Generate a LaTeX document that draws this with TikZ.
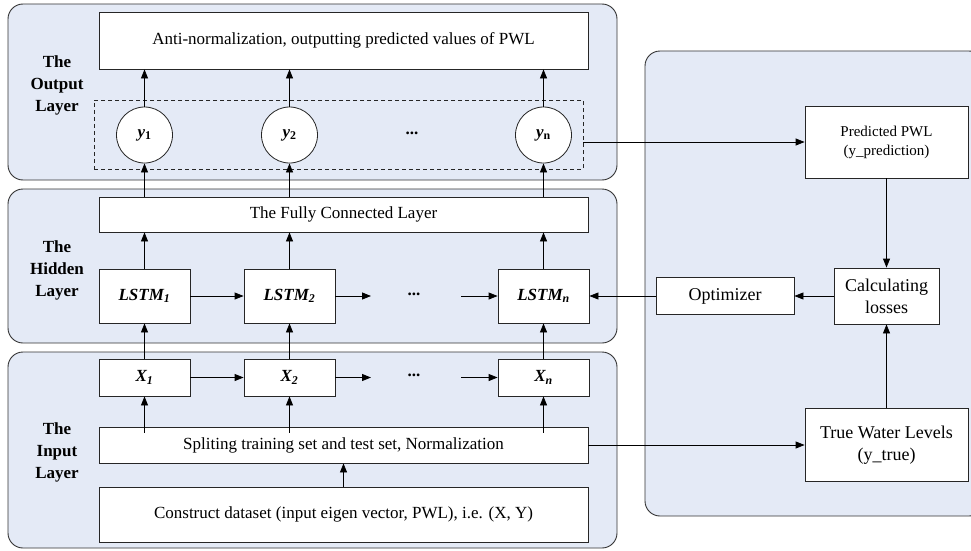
\documentclass[tikz,border=0pt]{standalone}
\usepackage{fontspec}
\setmainfont{Liberation Serif}
\usetikzlibrary{arrows.meta}
\definecolor{panelblue}{RGB}{228,234,246}
\newcommand\fsMain{\fontsize{17}{20}\selectfont}
\newcommand\fsBig{\fontsize{18}{22}\selectfont}
\newcommand\fsSmall{\fontsize{15}{19}\selectfont}
\newcommand\fsLab{\fontsize{17}{22}\selectfont\bfseries}
\newcommand\ysub[1]{{\bfseries\itshape y}\textsubscript{\bfseries #1}}
\newcommand\bisub[2]{{\bfseries\itshape #1\textsubscript{#2}}}
\begin{document}
\begin{tikzpicture}[x=1pt,y=-1pt,
  panel/.style={draw=black!80, line width=0.9pt, fill=panelblue, rounded corners=15pt},
  box/.style={draw=black!85, line width=0.8pt, fill=white, inner sep=0pt, align=center, font=\fsMain},
  circ/.style={circle, draw=black!85, line width=0.8pt, fill=white, minimum size=56pt, inner sep=0pt, font=\fsMain},
  lab/.style={align=center, font=\fsLab},
  dots/.style={font=\fsMain\bfseries},
  arr/.style={draw=black, line width=0.8pt, -{Triangle[length=9pt,width=7pt]}}
]
\useasboundingbox (0,0) rectangle (971,551);

% panels
\draw[panel] (8,4) rectangle (617,180);
\draw[panel] (8,189) rectangle (617,343);
\draw[panel] (8,352) rectangle (617,548);
\begin{scope}
  \clip (0,0) rectangle (971,551);
  \draw[panel] (645,51) rectangle (984,516);
\end{scope}

% layer labels
\node[lab] (lout) at (57,85) {The\\Output\\Layer};
\node[lab] (lhid) at (57,270) {The\\Hidden\\Layer};
\node[lab] (linp) at (57,452) {The\\Input\\Layer};

% output layer
\node[box, minimum width=489pt, minimum height=57pt] (anti) at (343.5,40.5) {Anti-normalization, outputting predicted values of PWL};
\node[draw=black!85, line width=0.8pt, dash pattern=on 4pt off 3pt, minimum width=489pt, minimum height=69pt, inner sep=0pt] (dash) at (338.5,134.5) {};
\node[circ] (y1) at (144.5,135) {\ysub{1}};
\node[circ] (y2) at (289.5,135) {\ysub{2}};
\node[circ] (yn) at (543.5,135) {\ysub{n}};
\node[dots] (yd) at (412,133) {...};

% hidden layer
\node[box, minimum width=489pt, minimum height=35pt] (fc) at (343.5,214.5) {The Fully Connected Layer};
\node[box, minimum width=91pt, minimum height=54pt] (l1) at (144.5,296) {\bisub{LSTM}{1}};
\node[box, minimum width=91pt, minimum height=54pt] (l2) at (289.5,296) {\bisub{LSTM}{2}};
\node[box, minimum width=91pt, minimum height=54pt] (ln) at (543.5,296) {\bisub{LSTM}{n}};
\node[dots] (ld) at (414,294) {...};
\coordinate (la) at (371,296);
\coordinate (lb) at (461,296);

% input layer
\node[box, minimum width=91pt, minimum height=37pt] (x1) at (144.5,377.5) {\bisub{X}{1}};
\node[box, minimum width=91pt, minimum height=37pt] (x2) at (289.5,377.5) {\bisub{X}{2}};
\node[box, minimum width=91pt, minimum height=37pt] (xn) at (543.5,377.5) {\bisub{X}{n}};
\node[dots] (xd) at (414,375.5) {...};
\coordinate (xa) at (371,377.5);
\coordinate (xb) at (461,377.5);
\node[box, minimum width=489pt, minimum height=36pt] (split) at (343.5,445) {Spliting training set and test set, Normalization};
\node[box, minimum width=489pt, minimum height=55pt] (cons) at (343.5,514.5) {Construct dataset (input eigen vector, PWL), i.e. (X, Y)};
\coordinate (st) at ([yshift=-6pt]split.north);

% right panel
\node[box, font=\fsSmall, minimum width=163pt, minimum height=72pt] (pred) at (886.5,142) {Predicted PWL\\(y\_prediction)};
\node[box, font=\fsBig, minimum width=105pt, minimum height=56pt] (calc) at (886.5,296) {Calculating\\losses};
\node[box, font=\fsBig, minimum width=138pt, minimum height=37pt] (opt) at (725,296) {Optimizer};
\node[box, font=\fsBig, minimum width=163pt, minimum height=73pt] (true) at (886.5,445) {True Water Levels\\(y\_true)};

% arrows output
\foreach \n in {y1,y2,yn}{
  \draw[arr] (\n.north) -- (\n.north |- anti.south);
  \draw[arr] (fc.north -| \n) -- (\n.south);
}
% arrows hidden
\foreach \n in {l1,l2,ln}{
  \draw[arr] (\n.north) -- (\n.north |- fc.south);
}
\draw[arr] (x1.north) -- (l1.south);
\draw[arr] (x2.north) -- (l2.south);
\draw[arr] (xn.north) -- (ln.south);
\draw[arr] (l1.east) -- (l2.west);
\draw[arr] (l2.east) -- (la);
\draw[arr] (lb) -- (ln.west);
% arrows input
\draw[arr] (x1.east) -- (x2.west);
\draw[arr] (x2.east) -- (xa);
\draw[arr] (xb) -- (xn.west);
\draw[arr] (st -| x1) -- (x1.south);
\draw[arr] (st -| x2) -- (x2.south);
\draw[arr] (st -| xn) -- (xn.south);
\draw[arr] (cons.north) -- (split.south);
% arrows right
\draw[arr] (dash.east |- pred.west) -- (pred.west);
\draw[arr] (pred.south) -- (calc.north);
\draw[arr] (true.north) -- (calc.south);
\draw[arr] (calc.west) -- (opt.east);
\draw[arr] (opt.west) -- (ln.east);
\draw[arr] (split.east) -- (true.west |- split.east);
\end{tikzpicture}
\end{document}
